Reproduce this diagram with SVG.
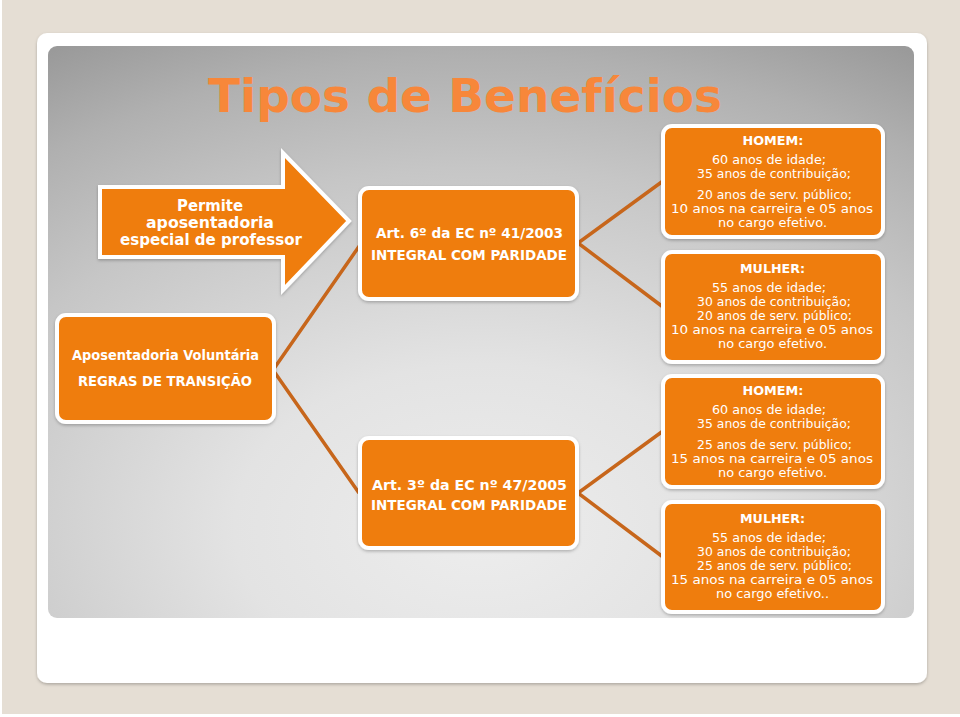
<svg xmlns="http://www.w3.org/2000/svg" width="960" height="717" viewBox="0 0 960 717">
<defs>
<radialGradient id="panel" cx="0.5" cy="0.82" r="0.95" fx="0.5" fy="0.85">
<stop offset="0" stop-color="#ededed"/>
<stop offset="0.3" stop-color="#e3e3e3"/>
<stop offset="0.65" stop-color="#c6c6c6"/>
<stop offset="0.85" stop-color="#b0b0b0"/>
<stop offset="1" stop-color="#9a9a9a"/>
</radialGradient>
<filter id="sh" x="-10%" y="-10%" width="120%" height="130%">
<feDropShadow dx="0" dy="1.5" stdDeviation="1.5" flood-color="#000" flood-opacity="0.25"/>
</filter>
<style>
.box{fill:#ef7d0e;stroke:#ffffff;stroke-width:4;filter:url(#sh)}
.t{font-family:"DejaVu Sans","Verdana",sans-serif;fill:#ffffff;text-anchor:middle}
.b{font-weight:bold}
.s{font-size:13px}
.m{font-size:15px}
.c{fill:none;stroke:#c7661b;stroke-width:3.5;stroke-linejoin:miter;stroke-linecap:butt}
</style>
</defs>
<rect x="0" y="0" width="960" height="717" fill="#e5ded4"/>
<rect x="0" y="714" width="960" height="3" fill="#ffffff"/>
<rect x="0" y="0" width="2" height="717" fill="#ffffff"/>
<rect x="37" y="33" width="890" height="650" rx="10" fill="#ffffff" filter="url(#sh)"/>
<rect x="48" y="46" width="866" height="572" rx="9" fill="url(#panel)"/>
<text x="465" y="112" font-family="DejaVu Sans, Verdana, sans-serif" font-weight="bold" font-size="47" fill="#f7873a" text-anchor="middle" textLength="514" lengthAdjust="spacingAndGlyphs">Tipos de Benefícios</text>
<g id="connectors">
<polyline class="c" points="360,245 273,370 359,493"/>
<polyline class="c" points="663,181 578,243 663,307"/>
<polyline class="c" points="663,431 578,493 663,557"/>
</g>
<g id="arrow">
<path class="box" d="M100,187 L283,187 L283,153 L349,221 L283,290 L283,257 L100,257 Z"/>
<text class="t b m" x="210" y="211" textLength="66" lengthAdjust="spacingAndGlyphs">Permite</text>
<text class="t b m" x="210" y="228" textLength="128" lengthAdjust="spacingAndGlyphs">aposentadoria</text>
<text class="t b m" x="211" y="245" textLength="182" lengthAdjust="spacingAndGlyphs">especial de professor</text>
</g>
<g id="voluntaria">
<rect class="box" x="57" y="315" width="217" height="107" rx="9"/>
<text class="t b" font-size="14" x="165.5" y="360" textLength="187" lengthAdjust="spacingAndGlyphs">Aposentadoria Voluntária</text>
<text class="t b" font-size="14" x="165" y="386" textLength="174" lengthAdjust="spacingAndGlyphs">REGRAS DE TRANSIÇÃO</text>
</g>
<g id="art6">
<rect class="box" x="360" y="188" width="217" height="111" rx="9"/>
<text class="t b" font-size="14" x="469.5" y="238" textLength="187" lengthAdjust="spacingAndGlyphs">Art. 6º da EC nº 41/2003</text>
<text class="t b" font-size="14" x="469" y="260" textLength="196" lengthAdjust="spacingAndGlyphs">INTEGRAL COM PARIDADE</text>
</g>
<g id="art3">
<rect class="box" x="360" y="438" width="217" height="110" rx="9"/>
<text class="t b" font-size="14" x="469.5" y="490" textLength="195" lengthAdjust="spacingAndGlyphs">Art.  3º da EC nº 47/2005</text>
<text class="t b" font-size="14" x="469" y="510" textLength="196" lengthAdjust="spacingAndGlyphs">INTEGRAL COM PARIDADE</text>
</g>
<g id="homem1">
<rect class="box" x="663" y="126" width="220" height="111" rx="9"/>
<text class="t b s" x="773" y="145" textLength="61" lengthAdjust="spacingAndGlyphs">HOMEM:</text>
<text class="t s" x="769" y="164" textLength="114" lengthAdjust="spacingAndGlyphs">60 anos de idade;</text>
<text class="t s" x="774" y="178" textLength="154" lengthAdjust="spacingAndGlyphs">35 anos de contribuição;</text>
<text class="t s" x="774.5" y="199" textLength="155" lengthAdjust="spacingAndGlyphs">20 anos de serv. público;</text>
<text class="t s" x="772" y="213" textLength="202" lengthAdjust="spacingAndGlyphs">10 anos na carreira e 05 anos</text>
<text class="t s" x="772.5" y="227" textLength="109" lengthAdjust="spacingAndGlyphs">no cargo efetivo.</text>
</g>
<g id="mulher1">
<rect class="box" x="663" y="252" width="220" height="110" rx="9"/>
<text class="t b s" x="772.5" y="273" textLength="65" lengthAdjust="spacingAndGlyphs">MULHER:</text>
<text class="t s" x="769" y="292" textLength="114" lengthAdjust="spacingAndGlyphs">55 anos de idade;</text>
<text class="t s" x="774" y="306" textLength="154" lengthAdjust="spacingAndGlyphs">30 anos de contribuição;</text>
<text class="t s" x="774.5" y="320" textLength="155" lengthAdjust="spacingAndGlyphs">20 anos de serv. público;</text>
<text class="t s" x="772" y="334" textLength="202" lengthAdjust="spacingAndGlyphs">10 anos na carreira e 05 anos</text>
<text class="t s" x="772.5" y="348" textLength="109" lengthAdjust="spacingAndGlyphs">no cargo efetivo.</text>
</g>
<g id="homem2">
<rect class="box" x="663" y="376" width="220" height="111" rx="9"/>
<text class="t b s" x="773" y="395" textLength="61" lengthAdjust="spacingAndGlyphs">HOMEM:</text>
<text class="t s" x="769" y="414" textLength="114" lengthAdjust="spacingAndGlyphs">60 anos de idade;</text>
<text class="t s" x="774" y="428" textLength="154" lengthAdjust="spacingAndGlyphs">35 anos de contribuição;</text>
<text class="t s" x="774.5" y="449" textLength="155" lengthAdjust="spacingAndGlyphs">25 anos de serv. público;</text>
<text class="t s" x="772" y="463" textLength="202" lengthAdjust="spacingAndGlyphs">15 anos na carreira e 05 anos</text>
<text class="t s" x="772.5" y="477" textLength="109" lengthAdjust="spacingAndGlyphs">no cargo efetivo.</text>
</g>
<g id="mulher2">
<rect class="box" x="663" y="502" width="220" height="110" rx="9"/>
<text class="t b s" x="772.5" y="523" textLength="65" lengthAdjust="spacingAndGlyphs">MULHER:</text>
<text class="t s" x="769" y="542" textLength="114" lengthAdjust="spacingAndGlyphs">55 anos de idade;</text>
<text class="t s" x="774" y="556" textLength="154" lengthAdjust="spacingAndGlyphs">30 anos de contribuição;</text>
<text class="t s" x="774.5" y="570" textLength="155" lengthAdjust="spacingAndGlyphs">25 anos de serv. público;</text>
<text class="t s" x="772" y="584" textLength="202" lengthAdjust="spacingAndGlyphs">15 anos na carreira e 05 anos</text>
<text class="t s" x="772.5" y="598" textLength="113" lengthAdjust="spacingAndGlyphs">no cargo efetivo..</text>
</g>
</svg>
